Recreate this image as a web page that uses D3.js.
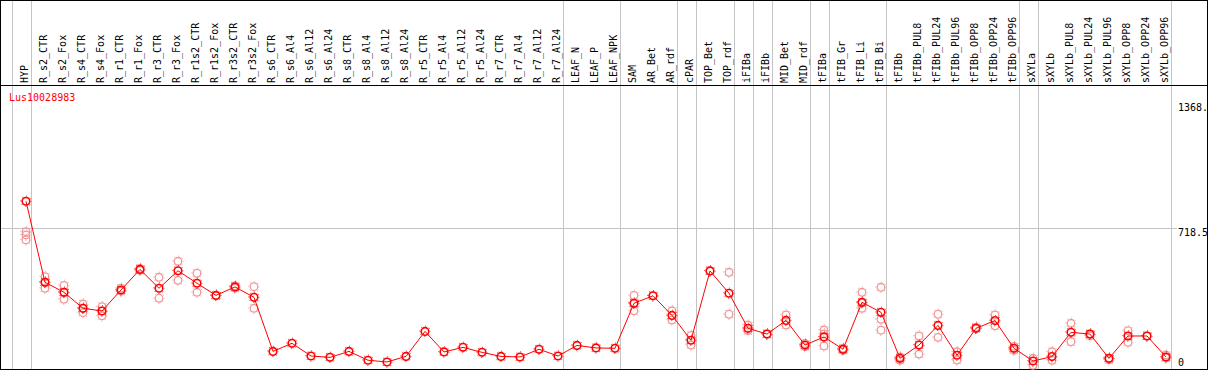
<!DOCTYPE html>
<html>
<head>
<meta charset="utf-8">
<script src="https://cdn.jsdelivr.net/npm/d3@7"></script>
<style>
  body { margin: 0; background: #fff; }
  svg { display: block; }
  text { font-family: "DejaVu Sans Mono", monospace; font-size: 10px; }
</style>
</head>
<body>
<svg id="chart" width="1209" height="370"></svg>
<script>
const geneName = "Lus10028983";

const labels = [
  "HYP", "R_s2_CTR", "R_s2_Fox", "R_s4_CTR", "R_s4_Fox", "R_r1_CTR", "R_r1_Fox",
  "R_r3_CTR", "R_r3_Fox", "R_r1s2_CTR", "R_r1s2_Fox", "R_r3s2_CTR", "R_r3s2_Fox",
  "R_s6_CTR", "R_s6_Al4", "R_s6_Al12", "R_s6_Al24", "R_s8_CTR", "R_s8_Al4", "R_s8_Al12",
  "R_s8_Al24", "R_r5_CTR", "R_r5_Al4", "R_r5_Al12", "R_r5_Al24", "R_r7_CTR", "R_r7_Al4",
  "R_r7_Al12", "R_r7_Al24", "LEAF_N", "LEAF_P", "LEAF_NPK", "SAM", "AR_Bet", "AR_rdf",
  "cPAR", "TOP_Bet", "TOP_rdf", "iFIBa", "iFIBb", "MID_Bet", "MID_rdf", "tFIBa",
  "tFIB_Gr", "tFIB_Li", "tFIB_Bi", "tFIBb", "tFIBb_PUL8", "tFIBb_PUL24", "tFIBb_PUL96",
  "tFIBb_OPP8", "tFIBb_OPP24", "tFIBb_OPP96", "sXYLa", "sXYLb", "sXYLb_PUL8",
  "sXYLb_PUL24", "sXYLb_PUL96", "sXYLb_OPP8", "sXYLb_OPP24", "sXYLb_OPP96"
];

const means = [
  859, 438, 386, 303, 289, 398, 505, 407, 498, 433, 370, 414, 360,
  79, 121, 55, 48, 79, 33, 24, 53, 183, 76, 100, 74, 53, 50, 90, 55,
  110, 97, 95, 329, 368, 266, 137, 497, 381, 199, 169, 240, 112, 154,
  90, 334, 282, 43, 112, 214, 59, 199, 239, 95, 29, 52, 178, 169, 43, 159, 159, 50
];

const replicates = [
  [701, 684, 658], [467, 407, 438], [422, 350, 386], [325, 280, 303], [311, 264, 289],
  [407, 392], [510, 500], [464, 355], [547, 448], [485, 386], [370], [420, 408], [415, 303],
  [], [], [], [], [], [], [], [], [], [], [], [], [], [], [], [],
  [], [], [],
  [370, 290, 329], [368], [290, 242], [162, 112], [497], [490, 272], [216, 187], [169],
  [268, 216], [120, 104], [190, 107, 170], [95, 85], [386, 303, 330], [412, 246, 189],
  [50, 33], [159, 65], [272, 152], [77, 34], [199, 205], [268, 212], [105, 85],
  [43, 7], [77, 33], [225, 129], [169, 160], [43, 35], [187, 126], [159], [60, 45]
];

// group separators: a grey line follows each of these columns
const groupEnds = ["HYP", "R_r7_Al24", "LEAF_NPK", "AR_rdf", "cPAR", "TOP_rdf", "iFIBa",
  "iFIBb", "MID_rdf", "tFIBa", "tFIB_Bi", "tFIBb_OPP96", "sXYLa", "sXYLb_OPP96"];

const yTicks = [
  { v: 1368, label: "1368." },
  { v: 718.5, label: "718.5", grid: true },
  { v: 0, label: "0" }
];

const W = 1209, H = 370;
const svg = d3.select("#chart");

const x = d3.scaleLinear().domain([0, labels.length - 1]).range([26, 1166]);
const y = d3.scaleLinear().domain([0, 1368]).range([366.6, 103.3]);

const gridColor = "#c4c4c4";

// vertical group lines (one before the first column too)
const sepIdx = [-1].concat(groupEnds.map(g => labels.indexOf(g)));
svg.selectAll(".sep")
  .data(sepIdx)
  .enter().append("line")
  .attr("class", "sep")
  .attr("x1", d => Math.round(x(d) + 4.6) + 0.5)
  .attr("x2", d => Math.round(x(d) + 4.6) + 0.5)
  .attr("y1", 0)
  .attr("y2", 369)
  .attr("stroke", gridColor)
  .attr("stroke-width", 1);

// horizontal grid
svg.selectAll(".hgrid")
  .data(yTicks.filter(t => t.grid))
  .enter().append("line")
  .attr("x1", 1)
  .attr("x2", 1177)
  .attr("y1", d => Math.round(y(d.v)) + 0.5)
  .attr("y2", d => Math.round(y(d.v)) + 0.5)
  .attr("stroke", gridColor);

// frame
svg.append("rect")
  .attr("x", 0.5).attr("y", 0.5)
  .attr("width", 1207).attr("height", 369)
  .attr("fill", "none").attr("stroke", "#000");
svg.append("line")
  .attr("x1", 0).attr("x2", 1208)
  .attr("y1", 85.5).attr("y2", 85.5)
  .attr("stroke", "#000");

// column labels
svg.selectAll(".collabel")
  .data(labels)
  .enter().append("text")
  .attr("class", "collabel")
  .attr("transform", (d, i) => `translate(${x(i) + 2},83) rotate(-90)`)
  .attr("fill", "#000")
  .text(d => d);

// right axis labels
svg.selectAll(".ylabel")
  .data(yTicks)
  .enter().append("text")
  .attr("class", "ylabel")
  .attr("x", 1178)
  .attr("y", d => d.v === 0 ? 365.5 : y(d.v) + 7.5)
  .attr("fill", "#000")
  .text(d => d.label);

// gene name
svg.append("text")
  .attr("x", 9).attr("y", 100.5)
  .attr("fill", "#ff0000")
  .text(geneName);

function marker(g, cx, cy, color, sw) {
  g.append("circle")
    .attr("cx", cx).attr("cy", cy).attr("r", 5.2)
    .attr("fill", "none").attr("stroke", color)
    .attr("stroke-width", 1)
    .attr("stroke-dasharray", "1 3.08")
    .attr("stroke-dashoffset", 0.5);
  g.append("circle")
    .attr("cx", cx).attr("cy", cy).attr("r", 3.8)
    .attr("fill", "none").attr("stroke", color)
    .attr("stroke-width", sw);
}

// replicate points
const repG = svg.append("g");
replicates.forEach((reps, i) => {
  reps.forEach(v => marker(repG, x(i), y(v), "#f09696", 1.3));
});

// mean line
const line = d3.line()
  .x((d, i) => x(i))
  .y(d => y(d));
svg.append("path")
  .datum(means)
  .attr("d", line)
  .attr("fill", "none")
  .attr("stroke", "#ff0000")
  .attr("stroke-width", 1);

const meanG = svg.append("g");
means.forEach((v, i) => marker(meanG, x(i), y(v), "#ff0000", 1.6));
</script>
</body>
</html>
